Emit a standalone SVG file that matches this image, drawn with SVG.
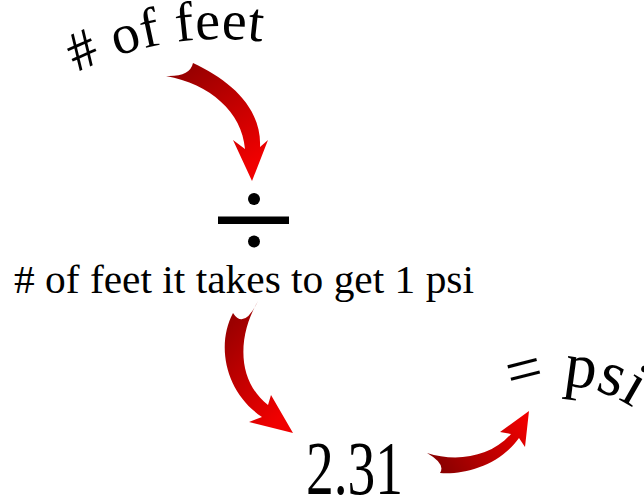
<svg xmlns="http://www.w3.org/2000/svg" xmlns:xlink="http://www.w3.org/1999/xlink" width="644" height="498" viewBox="0 0 644 498">
<style>
.t{font-family:"Liberation Serif","DejaVu Serif",serif;fill:#000}
.blk{fill:#000}
</style>
<defs>
<linearGradient id="g1" x1="0" y1="0" x2="0.6" y2="1"><stop offset="0" stop-color="#8a0000"/><stop offset="1" stop-color="#f00000"/></linearGradient>
<linearGradient id="g2" x1="0" y1="0" x2="0.6" y2="1"><stop offset="0" stop-color="#8a0000"/><stop offset="1" stop-color="#f00000"/></linearGradient>
<linearGradient id="g3" x1="0" y1="0.6" x2="1" y2="0.2"><stop offset="0" stop-color="#8a0000"/><stop offset="1" stop-color="#f00000"/></linearGradient>
<path id="arc1" d="M60,81.9 A320,320 0 0 1 380,81.9"/>
<path id="arc2" d="M461.4,432.4 A130,130 0 0 1 660.6,432.4"/>
</defs>
<g id="connectors">
<path id="c1" fill="url(#g1)" d="M166,76 Q190,77 193,63 C230,80 262,108 260,147 L268,140 L252,181 L233,140 L245,149 C242,112 210,84 166,76 Z"/>
<path id="c2" fill="url(#g2)" d="M233,313 Q244,330 258,301 C238,335 236,380 268,405 L271,395 L293,433 L249,422 L262,417 C225,392 216,345 233,313 Z"/>
<path id="c3" fill="url(#g3)" d="M427,453 C455,462 490,458 511,434 L500,432 L529,411 L525,447 L519,438 C500,465 465,475 440,473 Q446,464 427,453 Z"/>
</g>
<g id="node-feet">
<text class="t" font-size="56" letter-spacing="0.5"><textPath xlink:href="#arc1" href="#arc1" startOffset="19"># of feet</textPath></text>
</g>
<g id="node-divide">
<circle class="blk" cx="254" cy="199" r="6"/>
<rect class="blk" x="218" y="216.5" width="71" height="7.5"/>
<circle class="blk" cx="254" cy="241.5" r="6"/>
</g>
<g id="node-feet-per-psi">
<text class="t" x="14" y="293" font-size="40" textLength="460" lengthAdjust="spacingAndGlyphs"># of feet it takes to get 1 psi</text>
</g>
<g id="node-value">
<text class="t" font-size="76" transform="translate(306,494) scale(0.73,1)">2.31</text>
</g>
<g id="node-psi">
<text class="t" font-size="64"><textPath xlink:href="#arc2" href="#arc2" startOffset="63">= psi</textPath></text>
</g>
</svg>
